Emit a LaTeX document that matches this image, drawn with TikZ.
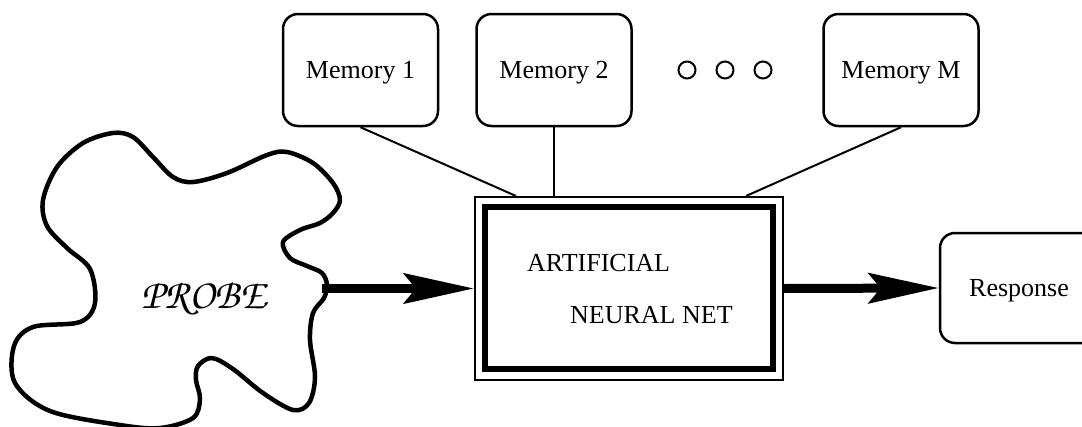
\documentclass[tikz,border=0pt]{standalone}
\usepackage[T1]{fontenc}
\usepackage{fontspec}
\setmainfont{Liberation Serif}
\usetikzlibrary{arrows.meta,calc}
\tikzset{
  membox/.style={draw, rounded corners=15pt, line width=2.5pt, minimum width=155pt, minimum height=112pt, inner sep=0pt, text depth=0pt, font=\fontsize{26}{30}\selectfont},
  link/.style={line width=2pt},
  bigarrow/.style={line width=9pt, -{Stealth[length=70pt, width=30pt, inset=12pt]}},
  dot/.style={circle, draw, line width=2pt, minimum size=17pt, inner sep=0pt},
  lbl/.style={font=\fontsize{26}{30}\selectfont, inner sep=0pt, anchor=base west}
}
\begin{document}
\begin{tikzpicture}[x=1pt,y=-1pt]
\clip (0,0) rectangle (1082,426);
\fill[white] (0,0) rectangle (1082,426);

% memories
\node[membox] (m1) at (360.5,70) {Memory 1};
\node[membox] (m2) at (554,70) {Memory 2};
\node[membox] (mm) at (901,70) {Memory M};
\node[dot] (d1) at (687,70) {};
\node[dot] (d2) at (725,70) {};
\node[dot] (d3) at (763,70) {};

% neural net
\node[draw, line width=2pt, minimum width=308pt, minimum height=183pt, inner sep=0pt] (nn) at (629,288.5) {};
\draw[line width=5.5pt] ($(nn.north west)+(11,11)$) rectangle ($(nn.south east)+(-11,-12)$);
\node[lbl] (t1) at (527,271.5) {ARTIFICIAL};
\node[lbl] (t2) at (570,323.5) {NEURAL NET};

% response
\node[draw, rounded corners=15pt, line width=2.5pt, minimum width=158pt, minimum height=110pt, inner sep=0pt, text depth=0pt, font=\fontsize{26}{30}\selectfont] (resp) at (1019,288) {Response};

% probe blob
\draw[line width=4.5pt, line join=round] plot[smooth cycle, tension=0.55] coordinates {
(43,200) (57,167) (83,143) (113,133) (133,137) (153,157) (173,177) (193,182)
(227,173) (267,155) (287,152) (313,163) (333,183) (340,200) (333,213) (320,223)
(300,230) (283,242) (290,258) (307,266) (322,273) (327,285) (324,298) (313,313)
(310,340) (315,377) (309,403) (293,410) (263,393) (233,369) (212,358) (198,366)
(196,380) (200,399) (193,418) (160,428) (120,425) (50,411) (15,383) (14,346)
(33,327) (80,322) (95,303) (90,269) (67,248) (47,226)};
\node[font=\fontencoding{T1}\fontfamily{pzc}\fontseries{mb}\fontshape{it}\fontsize{42}{46}\selectfont, inner sep=0pt, anchor=base] (probe) at (204,308) {PROBE};
\coordinate (pr) at (322,288.5);

% connectors
\coordinate (n1) at ($(nn.north west)+(42,0)$);
\coordinate (n3) at ($(nn.north west)+(272,0)$);
\draw[link] (m1.south) -- (n1);
\draw[link] (m2.south) -- (m2.south |- nn.north);
\draw[link] (mm.south) -- (n3);

\draw[bigarrow] (pr) -- (nn.west);
\draw[bigarrow] (nn.east) -- (resp.west);
\end{tikzpicture}
\end{document}
